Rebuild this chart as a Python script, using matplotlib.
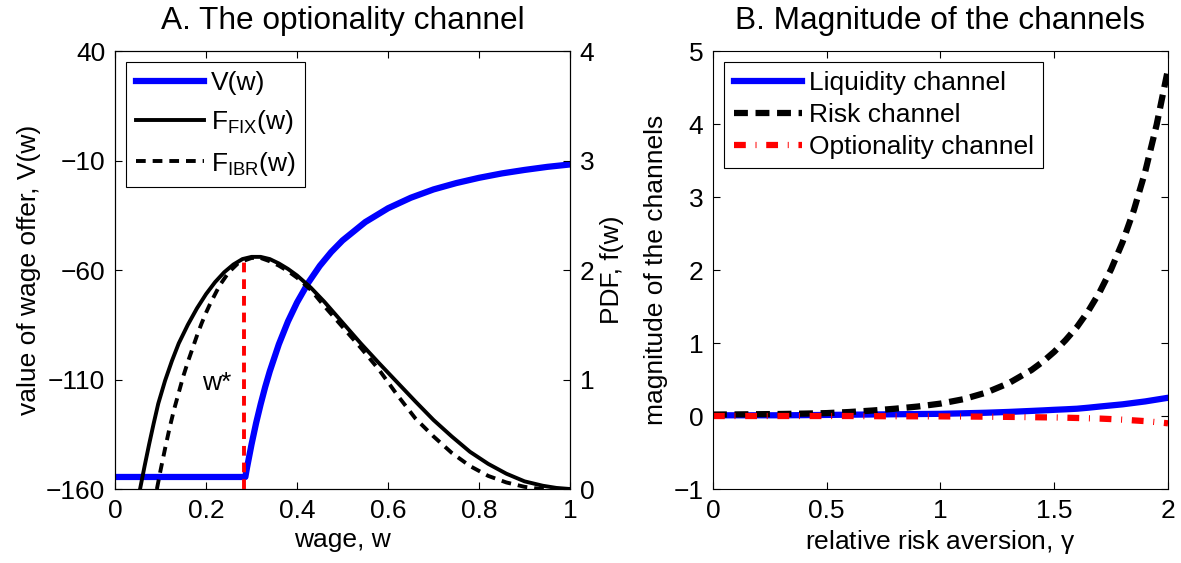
import matplotlib
matplotlib.use("Agg")
import matplotlib.pyplot as plt

plt.rcParams['font.family'] = ['Liberation Sans', 'DejaVu Sans']
plt.rcParams['mathtext.fontset'] = 'custom'
plt.rcParams['mathtext.rm'] = 'Liberation Sans'
plt.rcParams['mathtext.it'] = 'Liberation Sans'
plt.rcParams['mathtext.default'] = 'regular'
plt.rcParams['font.size'] = 19
plt.rcParams['lines.scale_dashes'] = False
plt.rcParams['axes.linewidth'] = 0.8

# panel A: value of the wage offer
w_V = [0.0, 0.2864, 0.29, 0.30, 0.31, 0.32, 0.33, 0.34, 0.36, 0.38, 0.40,
       0.425, 0.45, 0.475, 0.50, 0.55, 0.60, 0.65, 0.70, 0.75, 0.80,
       0.85, 0.90, 0.95, 1.0]
V = [-154.5, -154.5, -150.3, -139.6, -129.9, -121.3, -113.4, -106.3, -93.9, -83.5, -74.8,
     -65.7, -58.1, -51.8, -46.5, -38.1, -31.8, -27.0, -23.2, -20.3, -17.9,
     -15.9, -14.3, -12.9, -11.8]

# panel A: wage offer densities
w_fix = [0.045, 0.055, 0.065, 0.075, 0.085, 0.095, 0.11, 0.125, 0.14, 0.16, 0.18,
         0.20, 0.22, 0.24, 0.26, 0.28, 0.30, 0.32, 0.34, 0.36, 0.38,
         0.40, 0.43, 0.46, 0.50, 0.54, 0.58, 0.62, 0.66, 0.70, 0.74,
         0.78, 0.82, 0.86, 0.90, 0.94, 0.97, 1.0]
F_fix = [-0.22, 0.0, 0.21, 0.41, 0.60, 0.78, 0.99, 1.17, 1.33, 1.50, 1.65,
         1.78, 1.89, 1.98, 2.05, 2.10, 2.12, 2.12, 2.10, 2.06, 2.01,
         1.95, 1.84, 1.71, 1.52, 1.33, 1.15, 0.975, 0.80, 0.63, 0.48,
         0.34, 0.23, 0.14, 0.07, 0.03, 0.01, 0.0]

w_ibr = [0.085, 0.092, 0.10, 0.11, 0.12, 0.13, 0.14, 0.15, 0.16, 0.17, 0.18,
         0.19, 0.20, 0.21, 0.22, 0.23, 0.24, 0.25, 0.26, 0.27, 0.28,
         0.30, 0.32, 0.34, 0.36, 0.38, 0.40, 0.43, 0.46, 0.50, 0.54,
         0.58, 0.62, 0.66, 0.70, 0.74, 0.78, 0.82, 0.86, 0.90, 0.93,
         0.96, 1.0]
F_ibr = [-0.15, 0.0, 0.17, 0.37, 0.56, 0.73, 0.88, 1.03, 1.16, 1.28, 1.40,
         1.51, 1.61, 1.70, 1.78, 1.86, 1.92, 1.98, 2.02, 2.06, 2.08,
         2.11, 2.11, 2.08, 2.04, 1.99, 1.93, 1.82, 1.67, 1.48, 1.29,
         1.09, 0.86, 0.645, 0.48, 0.33, 0.21, 0.12, 0.06, 0.02, 0.003,
         0.0, 0.0]

W_STAR = 0.284
F_STAR = 2.09

# panel B data
gamma = [0.0, 0.1, 0.2, 0.3, 0.4, 0.5, 0.6, 0.7, 0.8, 0.9, 1.0,
         1.1, 1.2, 1.3, 1.4, 1.45, 1.5, 1.55, 1.6, 1.65, 1.7,
         1.75, 1.8, 1.85, 1.9, 1.95, 2.0]
liquidity = [0.01, 0.01, 0.01, 0.01, 0.012, 0.015, 0.018, 0.021, 0.024, 0.027, 0.03,
             0.037, 0.045, 0.056, 0.07, 0.077, 0.085, 0.092, 0.10, 0.114, 0.13,
             0.145, 0.16, 0.18, 0.20, 0.225, 0.25]
risk = [0.02, 0.022, 0.025, 0.028, 0.033, 0.04, 0.055, 0.075, 0.10, 0.13, 0.17,
        0.23, 0.32, 0.45, 0.63, 0.745, 0.88, 1.04, 1.22, 1.44, 1.70,
        2.01, 2.38, 2.82, 3.35, 3.99, 4.75]
optionality = [0.0, 0.0, 0.0, 0.0, 0.0, 0.0, 0.0, -0.002, -0.003, -0.004, -0.005,
               -0.007, -0.009, -0.012, -0.016, -0.018, -0.02, -0.023, -0.027, -0.031, -0.035,
               -0.042, -0.05, -0.06, -0.07, -0.084, -0.1]

fig = plt.figure(figsize=(11.81, 5.63), dpi=100)
ax = fig.add_axes([0.0974, 0.1314, 0.3853, 0.778])
ax2 = ax.twinx()
axb = fig.add_axes([0.6037, 0.1314, 0.3853, 0.778])

l1, = ax.plot(w_V, V, color='#0000ff', lw=4.5)
l2, = ax2.plot(w_fix, F_fix, color='black', lw=2.8)
l3, = ax2.plot(w_ibr, F_ibr, color='black', lw=2.8, dashes=(7, 5))
ax2.plot([W_STAR, W_STAR], [0, F_STAR], color='#ff0000', lw=2.8, dashes=(7, 5))
ax2.text(0.224, 0.97, 'w*', ha='center', va='center')

ax.set_xlim(0, 1)
ax.set_ylim(-160, 40)
ax2.set_ylim(0, 4)
ax.set_xticks([0, 0.2, 0.4, 0.6, 0.8, 1])
ax.set_xticklabels(['0', '0.2', '0.4', '0.6', '0.8', '1'])
ax.set_yticks([-160, -110, -60, -10, 40])
ax2.set_yticks([0, 1, 2, 3, 4])
ax.tick_params(direction='in', length=5, width=0.8, top=True, pad=7)
ax2.tick_params(direction='in', length=5, width=0.8, pad=7)
ax.set_xlabel('wage, w')
ax.set_ylabel('value of wage offer, V(w)')
ax2.set_ylabel('PDF, f(w)')
ax.set_title('A. The optionality channel', pad=16)

leg = ax2.legend([l1, l2, l3], ['V(w)', r'F$_{FIX}$(w)', r'F$_{IBR}$(w)'],
                 loc='upper left', bbox_to_anchor=(0.025, 0.975),
                 fancybox=False, framealpha=1, edgecolor='black',
                 handlelength=2.6, handletextpad=0.25, labelspacing=0.5,
                 borderaxespad=0, borderpad=0.35)
leg.get_frame().set_linewidth(0.8)

axb.plot(gamma, liquidity, color='#0000ff', lw=4.5, label='Liquidity channel')
axb.plot(gamma, risk, color='black', lw=4.5, dashes=(10, 5.5), label='Risk channel')
axb.plot(gamma, optionality, color='#ff0000', lw=4.5,
         dashes=(8.5, 7, 0.7, 7), label='Optionality channel')
axb.set_xlim(0, 2)
axb.set_ylim(-1, 5)
axb.set_xticks([0, 0.5, 1, 1.5, 2])
axb.set_xticklabels(['0', '0.5', '1', '1.5', '2'])
axb.set_yticks([-1, 0, 1, 2, 3, 4, 5])
axb.tick_params(direction='in', length=5, width=0.8, top=True, right=True, pad=7)
axb.set_xlabel(r'relative risk aversion, $\gamma$')
axb.set_ylabel('magnitude of the channels')
axb.set_title('B. Magnitude of the channels', pad=16)
legb = axb.legend(loc='upper left', bbox_to_anchor=(0.025, 0.975),
                  fancybox=False, framealpha=1, edgecolor='black',
                  handlelength=2.6, handletextpad=0.25, labelspacing=0.3,
                  borderaxespad=0, borderpad=0.35)
legb.get_frame().set_linewidth(0.8)

fig.savefig('out.png', dpi=100)
